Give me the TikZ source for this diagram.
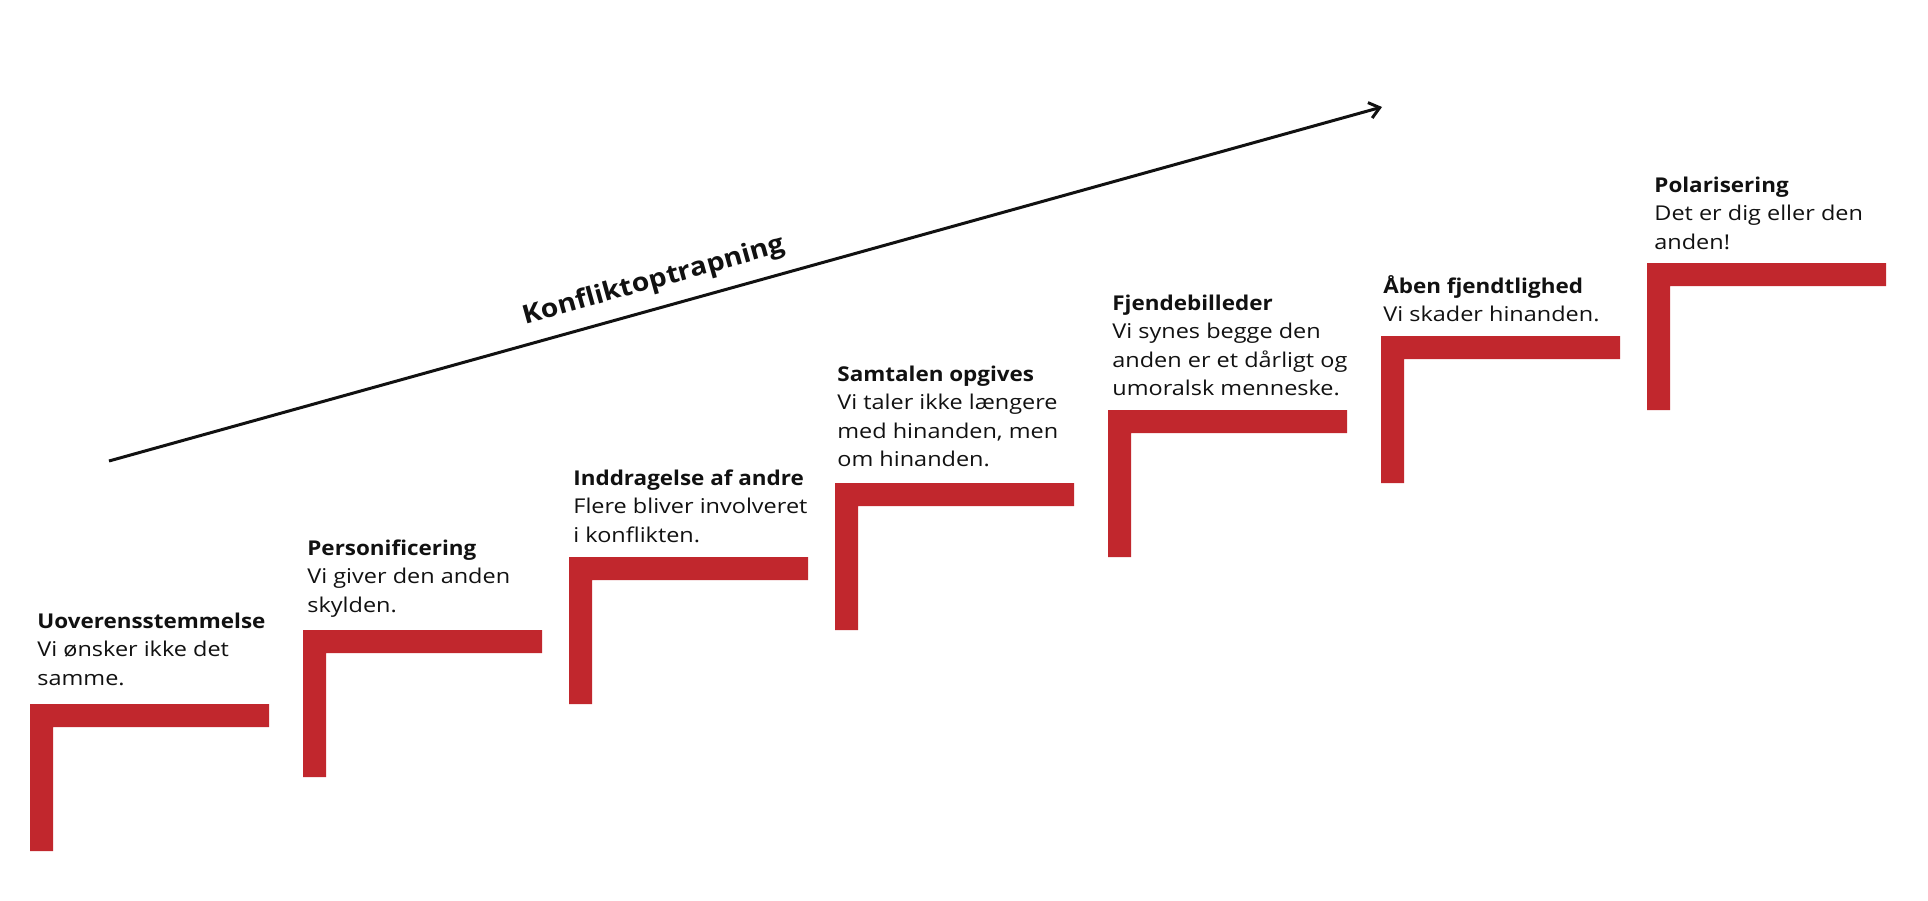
\documentclass[tikz,border=0pt]{standalone}
\usepackage{fontspec}
\setmainfont[FakeStretch=1.15,BoldFeatures={FakeStretch=1.1}]{Open Sans}
\usetikzlibrary{arrows.meta}
\definecolor{stepred}{RGB}{193,39,45}
\definecolor{ink}{RGB}{17,17,17}
\newcommand{\steptext}[3]{\vtop{\baselineskip=14.25pt\hbox{\bfseries #1}#2}}
\tikzset{
  bar/.style={fill=stepred},
  lbl/.style={anchor=base west, inner sep=0pt, text=ink, font=\fontsize{10.2}{14.25}\selectfont},
  arrowline/.style={line width=1.5pt, draw=ink, -{Straight Barb[length=5pt,width=8pt,line width=1.5pt]}},
}
\newcommand{\stepbar}[2]{\fill[bar] (#1,#2) -- ++(239,0) -- ++(0,23) -- ++(-216,0) -- ++(0,124) -- ++(-23,0) -- cycle;}
\begin{document}
\begin{tikzpicture}[x=0.5pt,y=-0.5pt]
\useasboundingbox (0,0) rectangle (1928,900);
% bars
\stepbar{30}{704}
\stepbar{303}{630}
\stepbar{569}{557}
\stepbar{835}{483}
\stepbar{1108}{410}
\stepbar{1381}{336}
\stepbar{1647}{263}
% texts
\node[lbl] (t1) at (37,628) {\steptext{Uoverensstemmelse}{\hbox{Vi ønsker ikke det}\hbox{samme.}}{}};
\node[lbl] (t2) at (307,555) {\steptext{Personificering}{\hbox{Vi giver den anden}\hbox{skylden.}}{}};
\node[lbl] (t3) at (573,485) {\steptext{Inddragelse af andre}{\hbox{Flere bliver involveret}\hbox{i konflikten.}}{}};
\node[lbl] (t4) at (837,381) {\steptext{Samtalen opgives}{\hbox{Vi taler ikke længere}\hbox{med hinanden, men}\hbox{om hinanden.}}{}};
\node[lbl] (t5) at (1112,310) {\steptext{Fjendebilleder}{\hbox{Vi synes begge den}\hbox{anden er et dårligt og}\hbox{umoralsk menneske.}}{}};
\node[lbl] (t6) at (1383,293) {\steptext{Åben fjendtlighed}{\hbox{Vi skader hinanden.}}{}};
\node[lbl] (t7) at (1654,192) {\steptext{Polarisering}{\hbox{Det er dig eller den}\hbox{anden!}}{}};
% arrow
\coordinate (a1) at (109,461);
\coordinate (a2) at (1382,107);
\draw[arrowline] (a1) -- (a2);
\node[anchor=base, inner sep=0pt, rotate=15.6, text=ink, font=\fontsize{12.9}{15}\selectfont\bfseries] (kl) at (656,288) {Konfliktoptrapning};
\end{tikzpicture}
\end{document}
